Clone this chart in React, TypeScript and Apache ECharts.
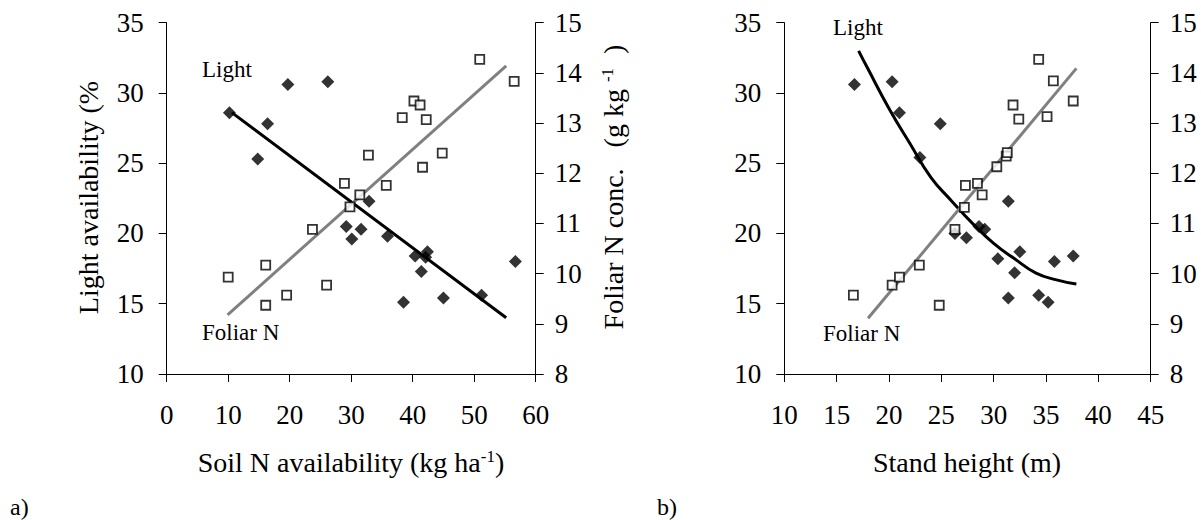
import React, { useEffect, useRef } from "react";
import * as echarts from "echarts";

// ---------- data ----------
// Panel a: soil N availability (kg/ha) vs light availability (%)
const lightA: number[][] = [
  [10.2, 28.6], [14.8, 25.3], [16.4, 27.8], [19.7, 30.6], [26.2, 30.8],
  [29.2, 20.5], [30.1, 19.6], [31.6, 20.3], [32.9, 22.3], [35.9, 19.8],
  [38.5, 15.1], [40.4, 18.4], [41.4, 17.3], [42.1, 18.3], [42.4, 18.7],
  [45.0, 15.4], [51.2, 15.6], [56.7, 18.0],
];
// Panel a: soil N availability vs foliar N conc. (g/kg)
const foliarA: number[][] = [
  [10.0, 9.93], [16.1, 10.17], [16.1, 9.37], [19.5, 9.57], [23.7, 10.88],
  [26.0, 9.77], [28.9, 11.8], [29.8, 11.33], [31.4, 11.57], [32.8, 12.36],
  [35.7, 11.76], [38.3, 13.11], [40.2, 13.44], [41.2, 13.36], [41.6, 12.12],
  [42.2, 13.07], [44.8, 12.4], [50.9, 14.27], [56.5, 13.83],
];
const lightFitA: number[][] = [[10.6, 28.6], [55.2, 14.0]];
const foliarFitA: number[][] = [[9.9, 9.18], [55.2, 14.14]];

// Panel b: stand height (m) vs light availability (%)
const lightB: number[][] = [
  [16.7, 30.6], [20.3, 30.8], [21.0, 28.6], [22.95, 25.4], [24.9, 27.8],
  [26.3, 20.0], [27.4, 19.7], [28.6, 20.5], [29.15, 20.3], [30.4, 18.2],
  [31.4, 22.3], [31.4, 15.4], [32.0, 17.2], [32.5, 18.7], [34.3, 15.6],
  [35.2, 15.1], [35.8, 18.0], [37.6, 18.4],
];
// Panel b: stand height vs foliar N conc.
const foliarB: number[][] = [
  [16.6, 9.57], [20.3, 9.77], [21.0, 9.93], [22.9, 10.17], [24.8, 9.37],
  [26.3, 10.88], [27.2, 11.32], [27.3, 11.76], [28.45, 11.8], [28.9, 11.57],
  [30.3, 12.13], [31.2, 12.34], [31.3, 12.41], [31.85, 13.36], [32.4, 13.08],
  [34.3, 14.27], [35.1, 13.13], [35.7, 13.84], [37.6, 13.44],
];
const lightFitB: number[][] = [
  [17.1, 33.0], [18, 31.7], [20, 28.9], [22, 26.4], [24, 24.0], [26, 22.3],
  [28, 20.7], [30, 19.3], [32, 18.2], [34, 17.2], [36, 16.7], [37.9, 16.4],
];
const foliarFitB: number[][] = [[18.0, 9.11], [37.9, 14.09]];

// axis ranges / ticks
const xAxisA = { min: 0, max: 60, interval: 10 };
const xAxisB = { min: 10, max: 45, interval: 5 };
const lightAxis = { min: 10, max: 35, interval: 5 };
const foliarAxis = { min: 8, max: 15, interval: 1 };

const FONT = "Liberation Serif";

export default function App() {
  const ref = useRef<HTMLDivElement>(null);

  useEffect(() => {
    if (!ref.current) return;
    const chart = echarts.init(ref.current, undefined, { renderer: "svg" });

    const axisLine = { show: true, lineStyle: { color: "#000", width: 1 } };
    const label = (margin: number) => ({
      fontSize: 27, color: "#000", fontFamily: FONT, margin,
    });
    const tick = { show: true, inside: false, length: 8, lineStyle: { color: "#000", width: 1 } };

    const xAx = (gridIndex: number, r: any) => ({
      type: "value", gridIndex, ...r, axisLine, axisTick: tick,
      axisLabel: label(27), splitLine: { show: false },
    });
    const yAx = (gridIndex: number, r: any, position: string, margin: number) => ({
      type: "value", gridIndex, position, ...r, axisLine, axisTick: tick,
      axisLabel: label(margin), splitLine: { show: false },
    });

    const diamonds = (data: number[][], xAxisIndex: number, yAxisIndex: number) => ({
      type: "scatter", xAxisIndex, yAxisIndex, data, symbol: "diamond",
      symbolSize: 13, itemStyle: { color: "#000" }, z: 3,
    });
    const squares = (data: number[][], xAxisIndex: number, yAxisIndex: number) => ({
      type: "scatter", xAxisIndex, yAxisIndex, data, symbol: "rect",
      symbolSize: 9, itemStyle: { color: "#fff", borderColor: "#000", borderWidth: 1.8 }, z: 4,
    });
    const fit = (data: number[][], xAxisIndex: number, yAxisIndex: number, color: string, smooth = false) => ({
      type: "line", xAxisIndex, yAxisIndex, data, showSymbol: false, symbol: "none",
      smooth, lineStyle: { color, width: 3 }, z: 2,
    });

    const txt = (text: string, x: number, y: number, size: number, extra: any = {}) => ({
      type: "text", x, y, ...extra,
      style: { text, fontSize: size, fontFamily: FONT, fill: "#000", ...(extra.style || {}) },
    });

    const sup = { fontSize: 17, fontFamily: FONT, fill: "#000", verticalAlign: "top", padding: [0, 0, 12, 0] };
    const base28 = { fontSize: 28, fontFamily: FONT, fill: "#000" };

    chart.setOption({
      animation: false,
      textStyle: { fontFamily: FONT },
      grid: [
        { left: 166.7, top: 22.7, width: 369, height: 351.3 },
        { left: 784.3, top: 22.7, width: 366.4, height: 351.3 },
      ],
      xAxis: [xAx(0, xAxisA), xAx(1, xAxisB)],
      yAxis: [
        yAx(0, lightAxis, "left", 23),
        yAx(0, foliarAxis, "right", 19),
        yAx(1, lightAxis, "left", 23),
        yAx(1, foliarAxis, "right", 19),
      ],
      series: [
        fit(lightFitA, 0, 0, "#000"),
        fit(foliarFitA, 0, 1, "#808080"),
        diamonds(lightA, 0, 0),
        squares(foliarA, 0, 1),
        fit(lightFitB, 1, 2, "#000", true),
        fit(foliarFitB, 1, 3, "#808080"),
        diamonds(lightB, 1, 2),
        squares(foliarB, 1, 3),
      ],
      graphic: [
        txt("Light", 202, 69, 23, { style: { align: "left", verticalAlign: "middle" } }),
        txt("Foliar N", 202, 332, 23, { style: { align: "left", verticalAlign: "middle" } }),
        txt("Light", 833, 27, 23, { style: { align: "left", verticalAlign: "middle" } }),
        txt("Foliar N", 823, 333, 23, { style: { align: "left", verticalAlign: "middle" } }),
        txt("a)", 10, 507, 24, { style: { align: "left", verticalAlign: "middle" } }),
        txt("b)", 657, 507, 24, { style: { align: "left", verticalAlign: "middle" } }),
        txt("Light availability (%", 88, 197.5, 28, {
          rotation: Math.PI / 2, style: { align: "center", verticalAlign: "middle" },
        }),
        {
          type: "text", x: 613, y: 187, rotation: Math.PI / 2,
          style: {
            text: "{b|Foliar N conc.   (g kg }{s|-1}{b|  )}",
            align: "center", verticalAlign: "middle",
            rich: { b: base28, s: sup },
          },
        },
        {
          type: "text", x: 351, y: 462,
          style: {
            text: "{b|Soil N availability (kg ha}{s|-1}{b|)}",
            align: "center", verticalAlign: "middle",
            rich: { b: base28, s: sup },
          },
        },
        txt("Stand height (m)", 967, 462, 28, { style: { align: "center", verticalAlign: "middle" } }),
      ],
    });

    return () => chart.dispose();
  }, []);

  return (
    <div
      ref={ref}
      style={{ position: "fixed", left: 0, top: 0, width: 1201, height: 520, background: "#fff" }}
    />
  );
}
